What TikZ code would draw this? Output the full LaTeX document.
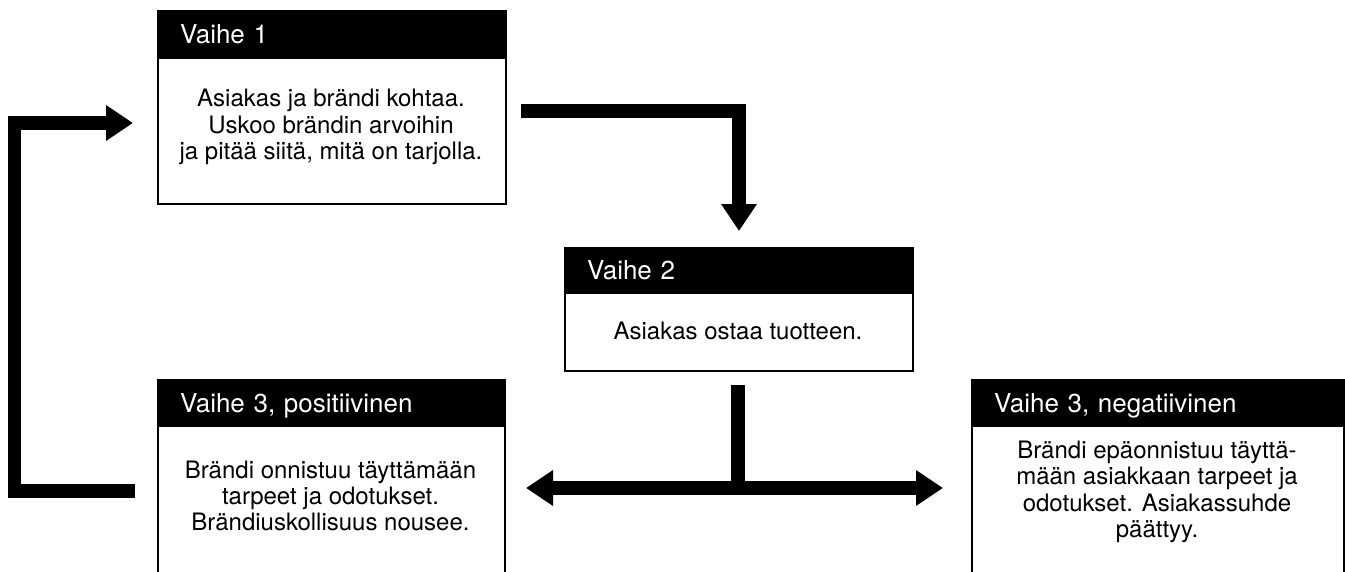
\documentclass[tikz,border=0pt]{standalone}
\usepackage{fontspec}
\setmainfont{TeX Gyre Heros}
\usetikzlibrary{arrows.meta,calc}
\begin{document}
\begin{tikzpicture}[x=1pt,y=-1pt,
 headbox/.style={fill=black,draw=black,line width=2pt,text=white,anchor=north west,inner xsep=22pt,inner ysep=0pt,align=left,text height=18.5pt,text depth=0pt,font=\fontsize{26}{30}\selectfont},
 bodybox/.style={draw=black,line width=2pt,anchor=north west,inner sep=0pt},
 bodytext/.style={align=center,font=\fontsize{24}{26.3}\selectfont,inner sep=0pt},
 conn/.style={line width=13.5pt,line join=miter,line cap=butt},
 tip/.style={-{Triangle[length=27pt,width=34pt]}},
 tips/.style={{Triangle[length=27pt,width=34pt]}-{Triangle[length=27pt,width=34pt]}}
]
\path[use as bounding box] (0,0) rectangle (1345,571);
\clip (0,0) rectangle (1345,571);

% Box 1
\node[bodybox,minimum width=348pt,minimum height=146pt] (b1) at (157,57) {};
\node[headbox,text width=304pt,minimum height=47pt] (h1) at (157,10) {Vaihe 1};
\node[bodytext] (t1) at (331,127) {Asiakas ja brändi kohtaa.\\Uskoo brändin arvoihin\\ja pitää siitä, mitä on tarjolla.};

% Box 2
\node[bodybox,minimum width=348pt,minimum height=78pt] (b2) at (564,292) {};
\node[headbox,text width=304pt,minimum height=45pt] (h2) at (564,247) {Vaihe 2};
\node[bodytext] (t2) at (738,331) {Asiakas ostaa tuotteen.};

% Box 3 positive
\node[bodybox,minimum width=347pt,minimum height=180pt] (b3p) at (157,425) {};
\node[headbox,text width=303pt,minimum height=46pt] (h3p) at (157,379) {Vaihe 3, positiivinen};
\node[bodytext] (t3p) at (330.5,496) {Brändi onnistuu täyttämään\\tarpeet ja odotukset.\\Brändiuskollisuus nousee.};

% Box 3 negative
\node[bodybox,minimum width=372pt,minimum height=180pt] (b3n) at (971,425) {};
\node[headbox,text width=328pt,minimum height=46pt] (h3n) at (971,379) {Vaihe 3, negatiivinen};
\node[bodytext] (t3n) at (1157,492) {Brändi epäonnistuu täyttä-\\mään asiakkaan tarpeet ja\\odotukset. Asiakassuhde\\päättyy.};

% Connector 1 -> 2
\coordinate (s1) at (521,111);
\draw[conn,tip,shorten >=16pt] (s1) -| (h2.north);

% Connector 2 -> 3
\coordinate (s2) at (738,385);
\coordinate (jn) at (738,488);
\draw[conn] (s2) -- (jn);
\coordinate (lt) at (526,488);
\coordinate (rt) at (943,488);
\draw[conn,tips] (lt) -- (rt);

% Feedback 3 positive -> 1
\coordinate (f0) at (135,491);
\coordinate (f1) at (14.5,491);
\coordinate (f2) at (14.5,123);
\coordinate (f3) at (133,123);
\draw[conn,tip] (f0) -- (f1) -- (f2) -- (f3);
\end{tikzpicture}
\end{document}
